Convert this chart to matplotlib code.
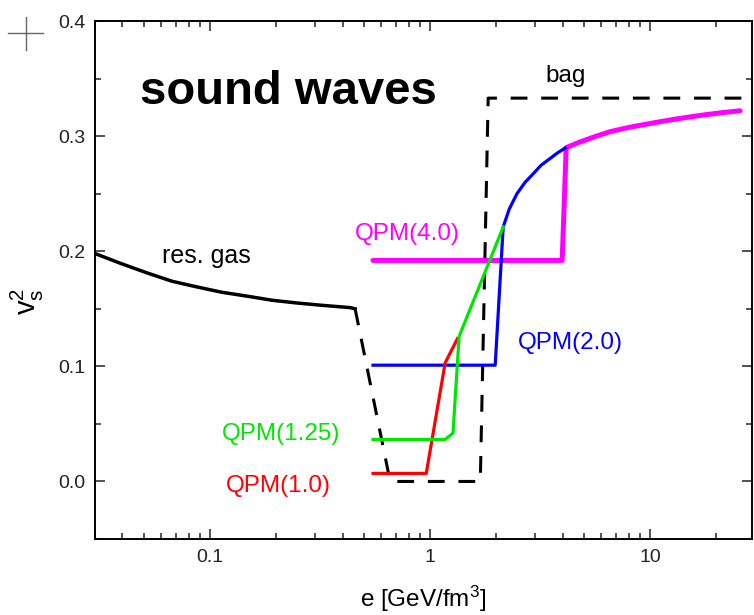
import matplotlib
matplotlib.use('Agg')
import matplotlib.pyplot as plt
from matplotlib.lines import Line2D
from matplotlib.ticker import AutoMinorLocator, LogLocator, NullFormatter

plt.rcParams['font.family'] = ['Liberation Sans', 'DejaVu Sans']
plt.rcParams['mathtext.fontset'] = 'custom'
plt.rcParams['mathtext.rm'] = 'Liberation Sans'

# resonance gas (solid) and bag model (dashed)
res_gas_e = [0.030, 0.039, 0.052, 0.0672, 0.087, 0.1134, 0.147, 0.1914,
             0.249, 0.323, 0.433, 0.456]
res_gas_v = [0.198, 0.1896, 0.181, 0.1739, 0.169, 0.1643, 0.161, 0.1574,
             0.155, 0.153, 0.151, 0.150]

bag_e = [0.456, 0.658, 1.69, 1.835, 29.0]
bag_v = [0.150, 0.0, 0.0, 0.333, 0.333]

# quasi-particle model curves
qpm10_e = [0.55, 0.96, 1.17, 1.33]
qpm10_v = [0.007, 0.007, 0.103, 0.124]

qpm125_e = [0.55, 1.17, 1.27, 1.354, 2.147]
qpm125_v = [0.0365, 0.0365, 0.042, 0.126, 0.221]

qpm20_e = [0.55, 1.975, 2.147, 2.286, 2.48, 2.703, 2.95, 3.196, 3.51, 3.776, 4.11]
qpm20_v = [0.101, 0.101, 0.221, 0.2365, 0.250, 0.260, 0.2676, 0.2748, 0.2806,
           0.2852, 0.2897]

qpm40_e = [0.55, 3.98, 4.15, 4.81, 5.62, 6.58, 8.11, 10.0, 13.0, 16.9, 20.8, 25.6]
qpm40_v = [0.192, 0.192, 0.290, 0.295, 0.2996, 0.3039, 0.3078, 0.311, 0.3148,
           0.318, 0.3202, 0.322]

fig = plt.figure(figsize=(7.54, 6.15), dpi=100)
ax = fig.add_axes([95 / 754, 76 / 615, 657 / 754, 518 / 615])

ax.plot(bag_e, bag_v, color='black', lw=2.2, dashes=(5.5, 4.5), zorder=2)
ax.plot(res_gas_e, res_gas_v, color='black', lw=2.5, zorder=3,
        solid_joinstyle='round')
ax.plot(qpm40_e, qpm40_v, color='#ff00ff', lw=3.6, zorder=3,
        solid_joinstyle='round', solid_capstyle='round')
ax.plot(qpm20_e, qpm20_v, color='#0000ff', lw=2.3, zorder=4,
        solid_joinstyle='round')
ax.plot(qpm125_e, qpm125_v, color='#00e600', lw=2.3, zorder=5,
        solid_joinstyle='round')
ax.plot(qpm10_e, qpm10_v, color='#ff0000', lw=2.3, zorder=4,
        solid_joinstyle='round')

ax.set_xscale('log')
ax.set_xlim(0.03, 29)
ax.set_ylim(-0.05, 0.4)

ax.set_xticks([0.1, 1, 10], ['0.1', '1', '10'])
ax.xaxis.set_minor_locator(LogLocator(base=10, subs=range(2, 10)))
ax.xaxis.set_minor_formatter(NullFormatter())
ax.set_yticks([0.0, 0.1, 0.2, 0.3, 0.4], ['0.0', '0.1', '0.2', '0.3', '0.4'])
ax.yaxis.set_minor_locator(AutoMinorLocator(2))

ax.tick_params(which='both', direction='in', top=True, right=True,
               width=1.1, labelsize=14, colors='#222222')
ax.tick_params(which='major', length=7.5, pad=7)
ax.tick_params(which='minor', length=4)
for sp in ax.spines.values():
    sp.set_linewidth(1.4)

ax.set_xlabel(r'e [GeV/fm$\mathregular{^3}$]', fontsize=17.5, labelpad=13)
ax.set_ylabel(r'$\mathregular{v_s^2}$', fontsize=21)
ax.yaxis.set_label_coords(-0.075, 0.459)

ax.text(0.048, 0.338, 'sound waves', fontsize=34, fontweight='bold',
        ha='left', va='center')
ax.text(3.33, 0.347, 'bag', fontsize=17.5, ha='left', va='baseline')
ax.text(0.0605, 0.190, 'res. gas', fontsize=18, ha='left', va='baseline')
ax.text(0.456, 0.2096, 'QPM(4.0)', fontsize=17.5, color='#ff00ff', ha='left', va='baseline')
ax.text(2.51, 0.1148, 'QPM(2.0)', fontsize=17.5, color='#0000ff', ha='left', va='baseline')
ax.text(0.1135, 0.0357, 'QPM(1.25)', fontsize=17.5, color='#00e600', ha='left', va='baseline')
ax.text(0.118, -0.0096, 'QPM(1.0)', fontsize=17.5, color='#ff0000', ha='left', va='baseline')

# small gray crosshair in the corner
fig.add_artist(Line2D([8 / 754, 43 / 754], [1 - 33 / 615, 1 - 33 / 615],
                      color='#666666', lw=1.0))
fig.add_artist(Line2D([26 / 754, 26 / 754], [1 - 17 / 615, 1 - 50 / 615],
                      color='#666666', lw=1.0))

fig.savefig('out.png', dpi=100)
